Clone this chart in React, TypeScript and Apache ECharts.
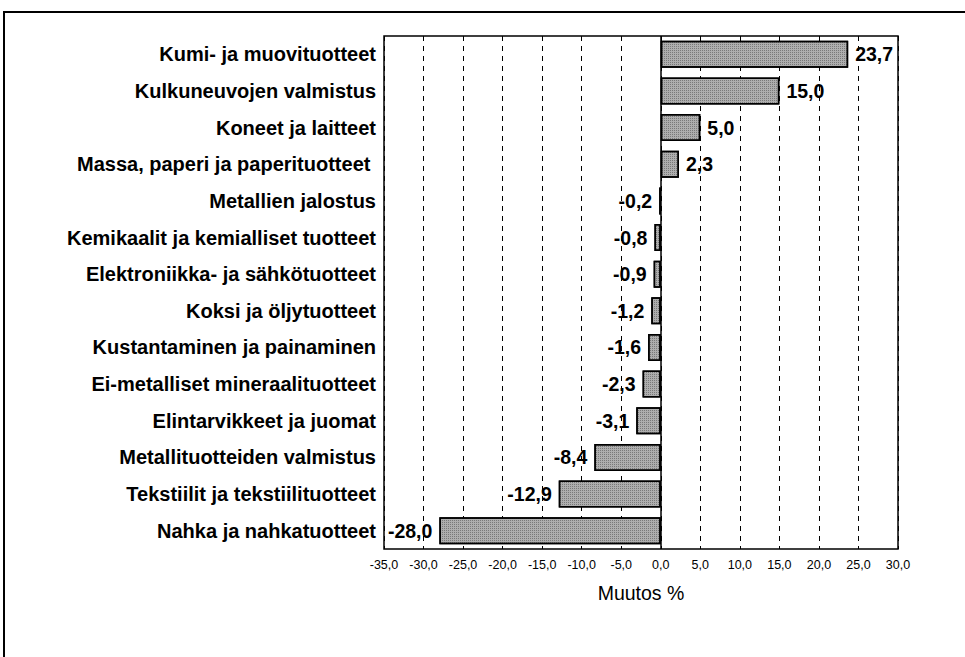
import React, { useEffect, useRef } from "react";
import * as echarts from "echarts";

const categories: string[] = [
  "Kumi- ja muovituotteet",
  "Kulkuneuvojen valmistus",
  "Koneet ja laitteet",
  "Massa, paperi ja paperituotteet ",
  "Metallien jalostus",
  "Kemikaalit ja kemialliset tuotteet",
  "Elektroniikka- ja sähkötuotteet",
  "Koksi ja öljytuotteet",
  "Kustantaminen ja painaminen",
  "Ei-metalliset mineraalituotteet",
  "Elintarvikkeet ja juomat",
  "Metallituotteiden valmistus",
  "Tekstiilit ja tekstiilituotteet",
  "Nahka ja nahkatuotteet",
];

const values: number[] = [23.7, 15.0, 5.0, 2.3, -0.2, -0.8, -0.9, -1.2, -1.6, -2.3, -3.1, -8.4, -12.9, -28.0];

const axisName = "Muutos %";
const axisMin = -35;
const axisMax = 30;
const axisStep = 5;

const fmt = (v: number) => v.toFixed(1).replace(".", ",");

export default function App() {
  const ref = useRef<HTMLDivElement>(null);
  useEffect(() => {
    if (!ref.current) return;
    const chart = echarts.init(ref.current, null, { renderer: "svg" });
    const font = "'Liberation Sans', Arial, Helvetica, sans-serif";
    chart.setOption({
      animation: false,
      backgroundColor: "#ffffff",
      textStyle: { fontFamily: font },
      graphic: [
        {
          type: "rect",
          shape: { x: 4, y: 12, width: 1000, height: 700 },
          style: { fill: "none", stroke: "#000", lineWidth: 2 },
          silent: true,
        },
      ],
      grid: {
        left: 384,
        top: 36,
        right: 67,
        bottom: 108,
        show: true,
        borderColor: "#000",
        borderWidth: 1.5,
        backgroundColor: "transparent",
      },
      xAxis: {
        type: "value",
        min: axisMin,
        max: axisMax,
        interval: axisStep,
        name: axisName,
        nameLocation: "middle",
        nameGap: 34,
        nameTextStyle: { fontSize: 19.5, color: "#000", fontFamily: font },
        axisLine: { show: false },
        axisTick: { show: false },
        axisLabel: {
          formatter: (v: number) => fmt(v),
          fontSize: 12.5,
          color: "#000",
          margin: 9,
          fontFamily: font,
        },
        splitLine: {
          show: true,
          lineStyle: { color: "#000", type: [5, 5], width: 1 },
        },
      },
      yAxis: {
        type: "category",
        data: categories,
        inverse: true,
        axisLine: { show: false },
        axisTick: { show: false },
        splitLine: { show: false },
        axisLabel: {
          fontSize: 20,
          fontWeight: "bold",
          color: "#000",
          margin: 8,
          fontFamily: font,
        },
      },
      series: [
        {
          type: "bar",
          barWidth: 27,
          data: values.map((v) => ({
            value: v,
            label: { position: v >= 0 ? "right" : "left" },
          })),
          itemStyle: {
            color: "#aeaeae",
            borderColor: "#000",
            borderWidth: 1.5,
            decal: {
              symbol: "rect",
              symbolSize: 1,
              color: "rgba(0,0,0,0.3)",
              dashArrayX: [1, 1],
              dashArrayY: [1, 1],
            },
          },
          label: {
            show: true,
            formatter: (p: any) => fmt(p.value),
            fontSize: 19.5,
            fontWeight: "bold",
            color: "#000",
            distance: 7,
            fontFamily: font,
          },
          markLine: {
            silent: true,
            symbol: "none",
            label: { show: false },
            lineStyle: { color: "#000", type: "solid", width: 1.5 },
            data: [{ xAxis: 0 }],
          },
        },
      ],
    });
    return () => chart.dispose();
  }, []);
  return (
    <div
      ref={ref}
      style={{ position: "absolute", left: 0, top: 0, width: 965, height: 657 }}
    />
  );
}
